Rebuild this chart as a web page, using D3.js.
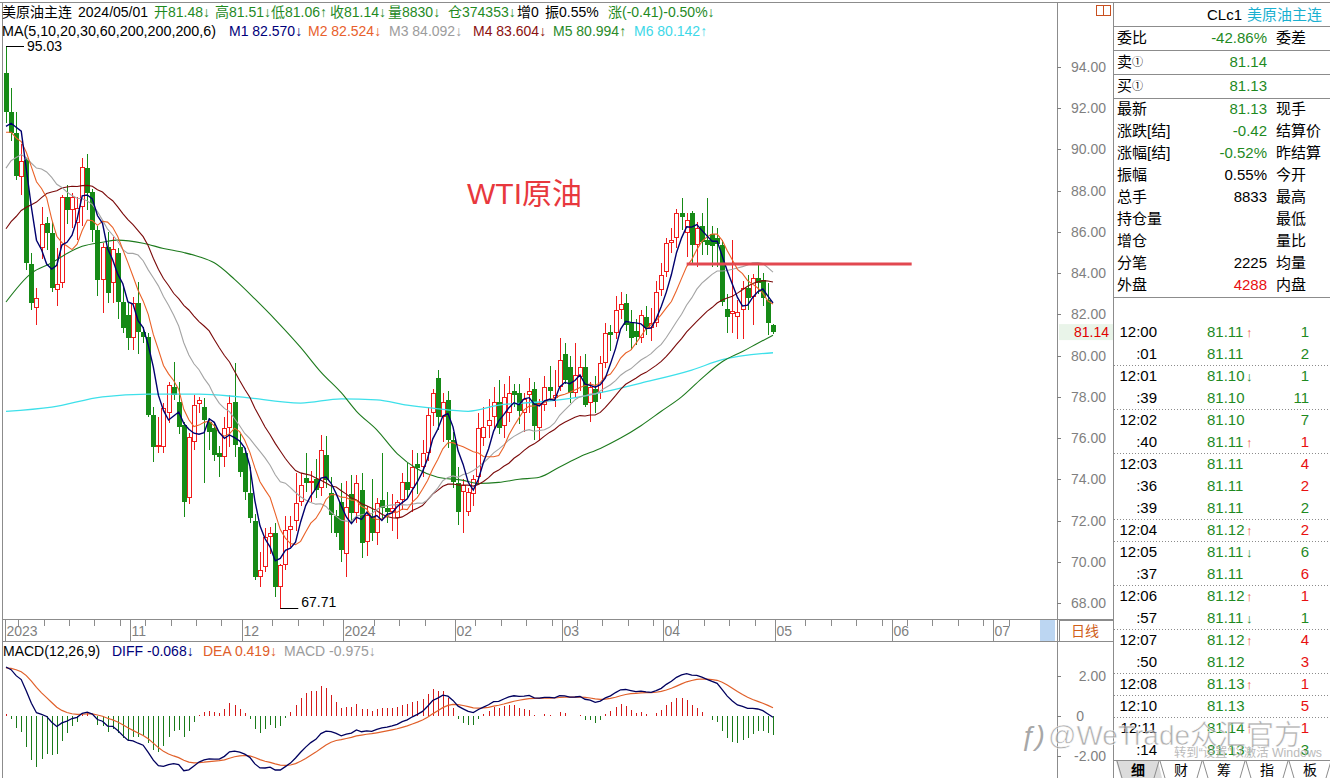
<!DOCTYPE html>
<html><head><meta charset="utf-8">
<script src="https://cdn.jsdelivr.net/npm/d3@7/dist/d3.min.js"></script>
<style>
html,body{margin:0;padding:0;background:#fff;overflow:hidden}
svg{display:block}
text{font-family:"Liberation Sans",Arial,"Noto Sans CJK SC",sans-serif}
</style></head><body>
<svg id="chart" width="1330" height="778"></svg>
<script>
// ================= DATA =================
const dates=["2023-09-28","2023-09-29",
"2023-10-02","2023-10-03","2023-10-04","2023-10-05","2023-10-06","2023-10-09","2023-10-10","2023-10-11","2023-10-12","2023-10-13","2023-10-16","2023-10-17","2023-10-18","2023-10-19","2023-10-20","2023-10-23","2023-10-24","2023-10-25","2023-10-26","2023-10-27","2023-10-30","2023-10-31",
"2023-11-01","2023-11-02","2023-11-03","2023-11-06","2023-11-07","2023-11-08","2023-11-09","2023-11-10","2023-11-13","2023-11-14","2023-11-15","2023-11-16","2023-11-17","2023-11-20","2023-11-21","2023-11-22","2023-11-23","2023-11-24","2023-11-27","2023-11-28","2023-11-29","2023-11-30",
"2023-12-01","2023-12-04","2023-12-05","2023-12-06","2023-12-07","2023-12-08","2023-12-11","2023-12-12","2023-12-13","2023-12-14","2023-12-15","2023-12-18","2023-12-19","2023-12-20","2023-12-21","2023-12-22","2023-12-26","2023-12-27","2023-12-28","2023-12-29",
"2024-01-02","2024-01-03","2024-01-04","2024-01-05","2024-01-08","2024-01-09","2024-01-10","2024-01-11","2024-01-12","2024-01-15","2024-01-16","2024-01-17","2024-01-18","2024-01-19","2024-01-22","2024-01-23","2024-01-24","2024-01-25","2024-01-26","2024-01-29","2024-01-30","2024-01-31",
"2024-02-01","2024-02-02","2024-02-05","2024-02-06","2024-02-07","2024-02-08","2024-02-09","2024-02-12","2024-02-13","2024-02-14","2024-02-15","2024-02-16","2024-02-19","2024-02-20","2024-02-21","2024-02-22","2024-02-23","2024-02-26","2024-02-27","2024-02-28","2024-02-29",
"2024-03-01","2024-03-04","2024-03-05","2024-03-06","2024-03-07","2024-03-08","2024-03-11","2024-03-12","2024-03-13","2024-03-14","2024-03-15","2024-03-18","2024-03-19","2024-03-20","2024-03-21","2024-03-22","2024-03-25","2024-03-26","2024-03-27","2024-03-28",
"2024-04-01","2024-04-02","2024-04-03","2024-04-04","2024-04-05","2024-04-08","2024-04-09","2024-04-10","2024-04-11","2024-04-12","2024-04-15","2024-04-16","2024-04-17","2024-04-18","2024-04-19","2024-04-22","2024-04-23","2024-04-24","2024-04-25","2024-04-26","2024-04-29","2024-04-30",
"2024-05-01"];

const openP=[93.70,91.80,90.80,88.66,89.50,84.45,82.30,85.20,86.43,85.95,83.20,83.50,87.70,87.06,86.43,87.20,89.10,87.94,86.10,83.67,85.27,83.52,84.98,82.60,
81.97,80.85,82.55,81.15,80.90,77.12,75.57,75.57,77.20,78.47,77.75,76.63,73.10,75.80,77.65,77.50,76.78,76.50,75.30,75.08,76.50,77.75,
75.57,75.30,73.34,72.00,69.26,69.75,71.20,71.40,68.77,69.84,71.54,72.00,72.90,74.06,73.80,74.00,73.60,75.18,73.34,72.20,
72.90,70.40,73.30,72.36,73.50,70.96,72.17,71.40,73.00,72.60,72.40,72.10,72.99,73.86,73.60,74.74,74.60,75.30,77.20,78.90,77.00,77.85,
75.90,73.80,73.40,72.40,73.30,74.10,76.00,76.60,77.00,77.75,76.60,77.20,78.30,78.20,77.20,78.10,78.40,76.50,77.60,78.50,77.95,
78.50,80.10,79.45,78.20,78.96,79.45,77.70,78.40,78.20,79.65,81.15,81.10,82.20,82.55,81.58,81.20,80.85,81.87,81.34,81.58,
83.18,84.06,85.46,85.70,86.90,85.95,86.90,85.37,86.30,85.60,85.90,85.70,85.37,82.26,82.00,81.87,82.20,83.30,82.84,83.76,83.67,82.70,
81.48];
const highP=[95.03,93.00,91.80,90.26,89.60,84.98,83.30,87.20,86.70,86.50,85.20,87.80,88.30,87.90,87.70,89.60,89.80,88.10,86.30,85.46,86.00,85.75,85.20,83.40,
82.55,82.84,83.57,81.40,81.10,77.50,77.00,77.70,78.70,79.70,78.70,76.80,76.25,78.10,78.00,77.94,76.95,76.80,75.60,77.00,78.10,79.64,
76.20,75.50,74.60,72.30,70.47,71.64,71.70,71.90,69.90,72.20,72.20,74.30,74.30,75.30,74.40,75.00,76.15,76.10,74.10,72.50,
73.80,73.90,74.20,74.20,74.30,72.70,74.00,73.10,75.27,73.40,73.30,73.00,74.30,74.80,75.40,75.30,75.90,77.50,78.40,79.30,78.20,78.30,
76.30,74.60,74.00,73.60,74.20,77.20,77.50,77.90,78.50,78.80,78.60,79.00,78.60,78.60,78.20,78.90,78.70,77.90,79.00,79.50,79.30,
80.85,80.60,80.00,80.60,80.00,80.10,78.70,79.00,80.00,81.60,81.50,82.90,83.10,83.00,82.20,81.80,82.20,82.40,82.30,83.60,
84.50,85.70,86.20,87.10,87.63,86.90,87.00,86.50,86.90,87.64,86.30,86.20,85.60,83.00,85.60,82.70,83.60,83.90,83.95,84.40,84.00,83.50,
81.51];
const lowP=[91.30,90.40,88.50,87.80,84.15,82.20,81.50,84.70,85.10,83.10,82.40,83.30,86.40,86.20,85.60,86.30,87.06,85.50,82.90,82.07,82.55,82.55,81.80,81.10,
80.27,80.27,80.10,80.60,77.00,74.84,75.30,75.30,76.73,77.85,76.20,72.17,72.80,75.40,77.20,73.80,75.40,74.90,74.10,74.60,75.57,75.08,
74.10,73.00,71.90,69.10,68.80,69.50,70.40,68.30,67.71,69.60,70.70,71.50,72.70,73.40,72.90,73.10,73.20,73.60,71.40,71.20,
70.00,69.26,71.90,71.90,70.20,70.30,71.00,70.80,72.10,71.90,71.50,71.10,72.50,73.10,72.40,73.30,74.10,74.90,76.60,76.40,75.80,75.50,
73.60,71.80,71.40,72.20,72.70,73.80,75.60,76.00,76.40,76.20,76.00,76.80,77.50,76.70,76.30,77.20,75.90,75.90,77.30,77.80,77.50,
78.30,78.60,77.70,78.00,78.30,77.50,76.80,77.20,77.90,79.40,80.20,80.80,81.80,81.20,80.27,80.50,80.60,81.00,80.70,81.40,
82.90,83.80,85.00,85.20,86.10,84.80,84.50,84.30,84.90,84.90,84.30,84.30,82.40,81.10,81.10,80.80,80.80,82.20,81.50,83.00,82.40,81.00,
81.06];
const closeP=[91.80,90.80,88.70,89.44,84.50,82.55,82.80,86.40,85.95,83.30,83.47,87.70,87.06,87.70,87.16,89.15,87.90,86.10,83.67,85.27,83.04,85.17,82.60,81.34,
80.85,82.55,81.15,80.90,77.12,75.57,75.66,77.46,78.57,78.09,76.54,72.90,76.05,77.60,77.85,76.90,76.29,75.18,75.08,76.50,77.70,75.66,
74.35,73.40,72.12,69.26,69.60,71.20,71.40,68.77,69.84,71.54,71.73,72.85,73.70,73.80,73.90,73.50,75.40,73.96,72.27,71.40,
70.57,72.66,72.36,73.80,70.90,72.27,71.40,72.85,72.60,72.40,72.60,72.90,73.86,73.50,74.60,74.55,75.30,77.10,78.20,77.00,77.75,75.90,
73.87,72.40,73.70,73.40,74.00,76.50,76.54,76.90,77.75,76.50,78.00,78.20,78.10,77.30,77.90,78.30,76.60,77.70,78.50,78.30,78.10,
79.80,78.80,78.20,79.05,79.45,77.60,78.50,77.75,79.65,81.10,81.00,82.20,82.50,81.50,80.85,80.90,81.97,81.34,81.60,83.10,
83.90,85.46,85.60,86.90,86.70,86.60,85.37,86.20,85.50,85.37,85.30,85.40,82.60,81.87,82.15,82.10,83.30,82.80,83.76,83.50,82.80,81.58,
81.14];

// closes of the 29 sessions before the first visible bar (warm-up for the short moving averages)
const warmupCloses=[80.39,81.25,80.72,79.64,78.89,79.05,79.83,80.10,81.16,81.63,83.63,85.55,86.69,87.54,87.87,87.51,87.29,88.84,88.52,90.16,90.77,91.48,91.20,89.66,89.63,90.03,89.68,90.39,93.68];

// long moving averages (bar index, value)
const ma60Idx=[0,5,9,12,15,19,22,27,31,35,38,41,45,49,53,58,62,66,69,73,77,81,85,90,93,97,101,105,109,113,117,121,125,129,133,137,141,145,148,151];
const ma60Val=[82.6,84.0,84.5,84.95,85.3,85.5,85.6,85.45,85.2,85.0,84.8,84.5,83.7,82.75,81.75,80.4,79.2,78.2,77.3,76.4,75.25,74.5,74.1,73.95,73.8,73.85,74.0,74.1,74.6,75.1,75.5,76.0,76.6,77.3,78.0,78.9,79.7,80.2,80.6,80.99];
const ma200Idx=[0,9,19,28,38,46,58,66,73,79,84,91,97,105,113,117,125,135,141,151];
const ma200Val=[77.3,77.5,78.0,78.13,78.13,78.0,77.7,77.9,77.85,77.6,77.45,77.3,77.6,77.75,78.0,78.2,78.67,79.3,79.8,80.14];

// MACD state at the first visible bar: EMA12, EMA26, DEA
const macdSeed=[90.20,87.75,2.40];

// axis / labels
const priceTicks=[68,70,72,74,76,78,80,82,84,86,88,90,92,94];
const macdTicks=[-2,0,2];
const monthLabels=["2023","11","12","2024","02","03","04","05","06","07"];
const monthIdx=[0,24,46,66,88,109,129,151,174,194];

// annotation
const resistancePrice=[84.45];
const resistanceSpan=[134,178.3];

// header texts
const headLabels=["开","高","低","收","量","仓"];
const headValues=["81.48","81.51","81.06","81.14","8830","374353"];
const headArrows=["↓","↓","↑","↓","↓","↓"];
const maNames=["M1","M2","M3","M4","M5","M6"];
const maValues=["82.570","82.524","84.092","83.604","80.994","80.142"];
const maArrows=["↓","↓","↓","↓","↑","↑"];
const macdNames=["DIFF","DEA","MACD"];
const macdValues=["-0.068","0.419","-0.975"];

// info panel
const infoLabels=["委比","卖","买","最新","涨跌[结]","涨幅[结]","振幅","总手","持仓量","增仓","分笔","外盘"];
const infoValues=["-42.86%","81.14","81.13","81.13","-0.42","-0.52%","0.55%","8833","","","2225","4288"];
const infoRight=["委差","","","现手","结算价","昨结算","今开","最高","最低","量比","均量","内盘"];
const infoTone=["g","g","g","g","g","g","k","k","k","k","k","r"];

// tick-by-tick list
const tickTimes=["12:00",":01","12:01",":39","12:02",":40","12:03",":36",":39","12:04","12:05",":37","12:06",":57","12:07",":50","12:08","12:10","12:11",":14"];
const tickPrices=["81.11","81.11","81.10","81.10","81.10","81.11","81.11","81.11","81.11","81.12","81.11","81.11","81.12","81.11","81.12","81.12","81.13","81.13","81.14","81.13"];
const tickArrows=["↑","","↓","","","↑","","","","↑","↓","","↑","↓","↑","","↑","","↑","↓"];
const tickVols=[1,2,1,11,7,1,4,2,2,2,6,6,1,1,4,3,1,5,1,3];
const tickVolTone=["g","g","g","g","g","r","r","r","g","r","g","r","r","g","r","r","r","r","r","g"];
const tabs=["细","财","筹","指","板"];

// ================= DRAW =================
const svg=d3.select("#chart");
const N=closeP.length;
const idx=d3.range(N);
const x=d3.scaleLinear().domain([0,151]).range([6,773]);
const y=d3.scaleLinear().domain([68,94]).range([603,67]);
const ym=d3.scaleLinear().domain([-2,2]).range([756,676]);

const RED="#f01c1c", GREEN="#168a16", TXTG="#1f8a1f", TXTR="#e81010", AX="#7f7f7f";
const tone=t=>t==="g"?TXTG:(t==="r"?TXTR:"#000");

svg.append("rect").attr("width",1330).attr("height",778).attr("fill","#fff");

// frame
const fr=svg.append("g").attr("stroke","#8c8c8c").attr("stroke-width",1).attr("shape-rendering","crispEdges");
[[0,2.5,1330,2.5],[2.5,2,2.5,778],[1057.5,2,1057.5,778],[1113.5,2,1113.5,778],[2,619.5,1113,619.5],[2,641.5,1113,641.5]]
  .forEach(a=>fr.append("line").attr("x1",a[0]).attr("y1",a[1]).attr("x2",a[2]).attr("y2",a[3]));

svg.append("defs").append("clipPath").attr("id","mainClip").append("rect").attr("x",3).attr("y",3).attr("width",1054).attr("height",616);
const main=svg.append("g").attr("clip-path","url(#mainClip)");

// candles
const cg=main.append("g").attr("shape-rendering","crispEdges");
idx.forEach(i=>{
  const o=openP[i],c=closeP[i],h=highP[i],l=lowP[i];
  const cx=Math.round(x(i))+0.5;
  const top=Math.round(y(Math.max(o,c))), bot=Math.round(y(Math.min(o,c)));
  const hh=Math.max(bot-top,1);
  if(c>=o){
    cg.append("line").attr("x1",cx).attr("x2",cx).attr("y1",y(h)).attr("y2",top).attr("stroke",RED);
    cg.append("line").attr("x1",cx).attr("x2",cx).attr("y1",top+hh).attr("y2",y(l)).attr("stroke",RED);
    cg.append("rect").attr("x",cx-2).attr("y",top+0.5).attr("width",4).attr("height",Math.max(hh-1,0.5)).attr("fill","#fff").attr("stroke",RED);
  } else {
    cg.append("line").attr("x1",cx).attr("x2",cx).attr("y1",y(h)).attr("y2",y(l)).attr("stroke",GREEN);
    cg.append("rect").attr("x",cx-2.5).attr("y",top).attr("width",5).attr("height",hh).attr("fill",GREEN);
  }
});

// moving averages
const allCloses=warmupCloses.concat(closeP);
const W0=warmupCloses.length;
function sma(n){return closeP.map((_,i)=>{const j=i+W0; if(j+1<n) return null; return d3.mean(allCloses.slice(j-n+1,j+1));});}
const lineGen=d3.line().defined(d=>d[1]!=null).x(d=>x(d[0])).y(d=>y(d[1]));
const smooth=d3.line().x(d=>x(d[0])).y(d=>y(d[1])).curve(d3.curveMonotoneX);
main.append("path").attr("d",smooth(ma200Idx.map((d,k)=>[d,ma200Val[k]]))).attr("fill","none").attr("stroke","#3ee0ea").attr("stroke-width",1.3);
main.append("path").attr("d",smooth(ma60Idx.map((d,k)=>[d,ma60Val[k]]))).attr("fill","none").attr("stroke","#1d7a1d").attr("stroke-width",1.1);
const maDefs=[[30,"#7a0a0a",1.1],[20,"#a4a4a4",1.1],[10,"#ea6228",1.1],[5,"#00006e",1.4]];
maDefs.forEach(([n,col,w])=>{
  const v=sma(n);
  main.append("path").attr("d",lineGen(idx.map(i=>[i,v[i]]))).attr("fill","none").attr("stroke",col).attr("stroke-width",w);
});

// resistance line
main.append("line").attr("x1",x(resistanceSpan[0])).attr("x2",x(resistanceSpan[1]))
  .attr("y1",y(resistancePrice[0])).attr("y2",y(resistancePrice[0])).attr("stroke","#e24850").attr("stroke-width",3);

// extreme labels
const iHi=d3.maxIndex(highP), iLo=d3.minIndex(lowP);
main.append("line").attr("x1",x(iHi)).attr("x2",x(iHi)+18).attr("y1",Math.round(y(highP[iHi]))+0.5).attr("y2",Math.round(y(highP[iHi]))+0.5).attr("stroke","#000");
main.append("text").attr("x",x(iHi)+21).attr("y",y(highP[iHi])+5).attr("font-size",14).attr("fill","#000").text(highP[iHi].toFixed(2));
main.append("line").attr("x1",x(iLo)).attr("x2",x(iLo)+18).attr("y1",Math.round(y(lowP[iLo]))-0.5).attr("y2",Math.round(y(lowP[iLo]))-0.5).attr("stroke","#000");
main.append("text").attr("x",x(iLo)+21).attr("y",y(lowP[iLo])-2).attr("font-size",14).attr("fill","#000").text(lowP[iLo].toFixed(2));

// title
svg.append("text").attr("x",467).attr("y",204).attr("font-size",30).attr("fill","#e8383d").text("WTI原油");

// header line 1 (segments placed like the reference)
const hd=svg.append("g").attr("font-size",14);
hd.append("text").attr("x",2).attr("y",17).attr("fill","#000").text("美原油主连");
hd.append("text").attr("x",78).attr("y",17).attr("fill","#000").text("2024/05/01");
const headX=[154,215,271,330,388,448];
headLabels.forEach((l,k)=>hd.append("text").attr("x",headX[k]).attr("y",17).attr("fill",TXTG).text(l+headValues[k]+headArrows[k]));
hd.append("text").attr("x",517).attr("y",17).attr("fill","#000").text("增0");
hd.append("text").attr("x",545).attr("y",17).attr("fill","#000").text("振0.55%");
hd.append("text").attr("x",608).attr("y",17).attr("fill",TXTG).text("涨(-0.41)-0.50%↓");

// header line 2
const maTextCol=["#00007a","#e8602c","#9c9c9c","#8b1010","#2a8a2a","#3ed8e8"];
const maX=[229,308,389,473,553,634];
hd.append("text").attr("x",2).attr("y",36).attr("fill","#000").attr("textLength",214).attr("lengthAdjust","spacingAndGlyphs").text("MA(5,10,20,30,60,200,200,200,6)");
maNames.forEach((n,k)=>hd.append("text").attr("x",maX[k]).attr("y",36).attr("fill",maTextCol[k]).text(n+" "+maValues[k]+maArrows[k]));

// right price axis
const ax=svg.append("g");
priceTicks.forEach(p=>{
  ax.append("line").attr("x1",1057).attr("x2",1061).attr("y1",Math.round(y(p))+0.5).attr("y2",Math.round(y(p))+0.5).attr("stroke",AX);
  ax.append("text").attr("x",1106).attr("y",y(p)+5).attr("text-anchor","end").attr("font-size",14).attr("fill",AX).text(p.toFixed(2));
});
const lastC=closeP[N-1];
ax.append("rect").attr("x",1059).attr("y",y(lastC)-8).attr("width",54).attr("height",16).attr("fill","#e9f4e9");
ax.append("text").attr("x",1109).attr("y",y(lastC)+5).attr("text-anchor","end").attr("font-size",14).attr("fill","#e00000").text(lastC.toFixed(2));
// small icon
svg.append("rect").attr("x",1096.5).attr("y",5.5).attr("width",14).attr("height",10).attr("fill","none").attr("stroke","#c85020");
svg.append("line").attr("x1",1103.5).attr("x2",1103.5).attr("y1",5.5).attr("y2",15.5).attr("stroke","#c85020");

// x axis strip
const xa=svg.append("g").attr("shape-rendering","crispEdges");
for(let i=2;i<200;i+=5){ if(monthIdx.some(m=>Math.abs(m-i)<2)) continue;
  xa.append("line").attr("x1",Math.round(x(i))+2.5).attr("x2",Math.round(x(i))+2.5).attr("y1",620).attr("y2",626).attr("stroke","#8c8c8c"); }
monthIdx.forEach((m,k)=>{
  const px=Math.round(x(m))+(k===0?-0.5:2.5);
  xa.append("line").attr("x1",px).attr("x2",px).attr("y1",620).attr("y2",641).attr("stroke","#8c8c8c");
  xa.append("text").attr("x",px+1).attr("y",636).attr("font-size",14).attr("fill",AX).text(monthLabels[k]);
});
xa.append("rect").attr("x",1040).attr("y",620).attr("width",15).attr("height",21).attr("fill","#bcd6f2");
xa.append("rect").attr("x",1059.5).attr("y",620.5).attr("width",54).attr("height",21).attr("fill","#fff").attr("stroke","#8c8c8c");
xa.append("text").attr("x",1071).attr("y",636).attr("font-size",14).attr("fill","#d0601a").text("日线");

// MACD
const diff=[],dea=[];
let e12=macdSeed[0],e26=macdSeed[1],dd=macdSeed[2];
closeP.forEach((c,i)=>{
  if(i>0){e12+= (c-e12)*2/13; e26+=(c-e26)*2/27;}
  const df=e12-e26;
  if(i>0) dd+=(df-dd)*0.2;
  diff.push(df); dea.push(dd);
});
const hist=idx.map(i=>2*(diff[i]-dea[i]));
const mg=svg.append("g");
mg.append("g").attr("shape-rendering","crispEdges").selectAll("line").data(idx).join("line")
  .attr("x1",i=>Math.round(x(i))+0.5).attr("x2",i=>Math.round(x(i))+0.5)
  .attr("y1",ym(0)).attr("y2",i=>ym(hist[i])).attr("stroke",i=>hist[i]>=0?"#d41a1a":"#1a7a1a");
const ml=d3.line().x(d=>x(d[0])).y(d=>ym(d[1]));
mg.append("path").attr("d",ml(idx.map(i=>[i,dea[i]]))).attr("fill","none").attr("stroke","#e0602a").attr("stroke-width",1.2);
mg.append("path").attr("d",ml(idx.map(i=>[i,diff[i]]))).attr("fill","none").attr("stroke","#00005e").attr("stroke-width",1.3);
const mh=svg.append("g").attr("font-size",14);
mh.append("text").attr("x",3).attr("y",656).attr("fill","#000").text("MACD(12,26,9)");
const mcol=["#00007a","#e0602a","#9c9c9c"];
const mX=[112,203,284];
macdNames.forEach((n,k)=>mh.append("text").attr("x",mX[k]).attr("y",656).attr("fill",mcol[k]).text(n+" "+macdValues[k]+"↓"));
macdTicks.forEach(t=>{
  svg.append("line").attr("x1",1057).attr("x2",1061).attr("y1",Math.round(ym(t))+0.5).attr("y2",Math.round(ym(t))+0.5).attr("stroke",AX);
  svg.append("text").attr("x",t===0?1084:1106).attr("y",ym(t)+5).attr("text-anchor","end").attr("font-size",14).attr("fill",AX).text(t===0?"0":t.toFixed(2));
});

// info panel
const ip=svg.append("g");
ip.append("text").attr("x",1207).attr("y",20).attr("font-size",15).attr("fill","#000").text("CLc1");
ip.append("text").attr("x",1247).attr("y",20).attr("font-size",15).attr("fill","#1ab0d0").text("美原油主连");
[26.5,50.5,74.5,98.5,297.5].forEach(v=>ip.append("line").attr("x1",1114).attr("x2",1330).attr("y1",v).attr("y2",v).attr("stroke","#8c8c8c").attr("shape-rendering","crispEdges"));
const rowY=[38,62,86,109,131,153,175,197,219,241,263,285];
infoLabels.forEach((l,k)=>{
  const t=ip.append("text").attr("x",1117).attr("y",rowY[k]+5).attr("font-size",15).attr("fill","#000");
  t.append("tspan").text(l);
  if(k===1||k===2) t.append("tspan").attr("font-size",11).attr("dy",-1).text("①");
  ip.append("text").attr("x",1267).attr("y",rowY[k]+5).attr("text-anchor","end").attr("font-size",15).attr("fill",tone(infoTone[k])).text(infoValues[k]);
  ip.append("text").attr("x",1276).attr("y",rowY[k]+5).attr("font-size",15).attr("fill","#000").text(infoRight[k]);
});

// tick list
const tl=svg.append("g");
tickTimes.forEach((t,k)=>{
  const cy=332+22*k;
  if(k>0 && t.startsWith("12:")) tl.append("line").attr("x1",1114).attr("x2",1330).attr("y1",cy-10.5).attr("y2",cy-10.5)
      .attr("stroke","#8c8c8c").attr("stroke-dasharray","1,2").attr("shape-rendering","crispEdges");
  tl.append("text").attr("x",1157).attr("y",cy+5).attr("text-anchor","end").attr("font-size",15).attr("fill","#000").text(t);
  tl.append("text").attr("x",1207).attr("y",cy+5).attr("font-size",15).attr("fill",TXTG).text(tickPrices[k]);
  if(tickArrows[k]) tl.append("text").attr("x",1246).attr("y",cy+5).attr("font-size",13).attr("fill",tickArrows[k]==="↑"?"#f05030":TXTG).text(tickArrows[k]);
  tl.append("text").attr("x",1309).attr("y",cy+5).attr("text-anchor","end").attr("font-size",15).attr("fill",tone(tickVolTone[k])).text(tickVols[k]);
});

// watermarks
svg.append("text").attr("x",1174).attr("y",757).attr("font-size",12).attr("fill","#b4b4b4").attr("opacity",0.9)
  .attr("textLength",148).attr("lengthAdjust","spacingAndGlyphs").text("转到“设置”以激活 Windows");
svg.append("text").attr("x",1020).attr("y",745).attr("font-size",28).attr("font-style","italic").attr("fill","#8a8a8a").attr("opacity",0.75).text("ƒ)");
svg.append("text").attr("x",1048).attr("y",745).attr("font-size",28).attr("fill","#909090").attr("opacity",0.7)
  .attr("stroke","#fff").attr("stroke-width",0.6).text("@WeTrade众汇官方");

// tabs
const tb=svg.append("g");
tb.append("line").attr("x1",1114).attr("x2",1330).attr("y1",760.5).attr("y2",760.5).attr("stroke","#8c8c8c");
tb.append("path").attr("d","M1116,761 L1158,761 L1162,778 L1121,778 Z").attr("fill","#dcdcdc");
tabs.forEach((t,k)=>{
  const cx=1138+43*k;
  tb.append("path").attr("d",`M${cx-21},761 L${cx-16},778 M${cx+21},761 L${cx+16},778`).attr("stroke","#8c8c8c").attr("fill","none");
  tb.append("text").attr("x",cx).attr("y",775).attr("text-anchor","middle").attr("font-size",14).attr("font-weight",k===0?"bold":"normal").attr("fill","#000").text(t);
});
</script>
</body></html>
